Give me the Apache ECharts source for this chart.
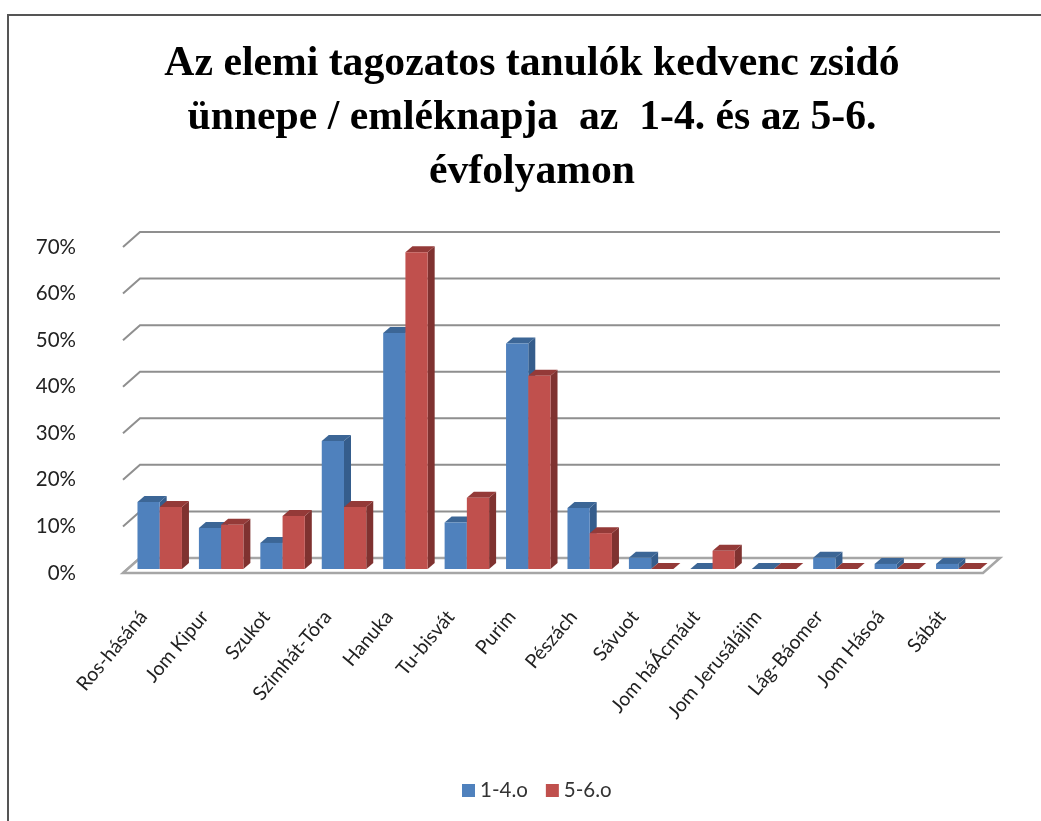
<!DOCTYPE html>
<html>
<head>
<meta charset="utf-8">
<title>Kedvenc ünnep</title>
<script src="https://cdn.jsdelivr.net/npm/echarts@6/dist/echarts.min.js"></script>
<style>
	html, body { margin: 0; padding: 0; background: #fff; }
	#main { width: 1041px; height: 821px; }
</style>
</head>
<body>
<div id="main"></div>
<script>
	// adatok
	var categories = ['Ros-hásáná', 'Jom Kipur', 'Szukot', 'Szimhát-Tóra', 'Hanuka', 'Tu-bisvát', 'Purim', 'Pészách', 'Sávuot', 'Jom háÁcmáut', 'Jom Jerusálájim', 'Lág-Báomer', 'Jom Hásoá', 'Sábát'];
	var grade14 = [14.4, 8.8, 5.6, 27.5, 50.7, 10, 48.4, 13.1, 2.4, 0, 0, 2.4, 1.1, 1.1];
	var grade56 = [13.3, 9.5, 11.4, 13.3, 68, 15.3, 41.5, 7.7, 0, 3.9, 0, 0, 0, 0];
	var ticks = [0, 10, 20, 30, 40, 50, 60, 70];

	var chartTitle = 'Az elemi tagozatos tanulók kedvenc zsidó\nünnepe / emléknapja  az  1-4. és az 5-6.\névfolyamon';

	var myChart = echarts.init(document.getElementById('main'));

	// a 3D hatás eltolásai (px)
	var wallDx = 17, wallDy = -15;
	var barDx = 6, barDy = -4;
	var depthX = 7, depthY = -6;

	function renderBar(side, front, sideColor, topColor) {
		return function(params, api) {
			var p = api.coord([api.value(0), api.value(1)]);
			var base = api.coord([api.value(0), 0]);
			var w = api.size([1, 0])[0] * 0.362;
			var x0 = p[0] + barDx + (side < 0 ? -w : 0);
			var x1 = x0 + w;
			var yt = p[1] + barDy;
			var yb = base[1] + barDy;
			return {
				type: 'group',
				children: [{
					type: 'polygon',
					shape: { points: [[x1, yt], [x1 + depthX, yt + depthY], [x1 + depthX, yb + depthY], [x1, yb]] },
					style: { fill: sideColor }
				}, {
					type: 'polygon',
					shape: { points: [[x0, yt], [x0 + depthX, yt + depthY], [x1 + depthX, yt + depthY], [x1, yt]] },
					style: { fill: topColor }
				}, {
					type: 'rect',
					shape: { x: x0, y: yt, width: w, height: yb - yt },
					style: { fill: front }
				}]
			};
		};
	}

	// hátsó fal, oldalfal és padló vonalai
	function renderWall(params, api) {
		var cs = params.coordSys;
		var y = api.coord([0, api.value(1)])[1];
		var line = { stroke: '#8f8f8f', lineWidth: 2, fill: null };
		var children = [{
			type: 'polyline',
			shape: { points: [[cs.x, y], [cs.x + wallDx, y + wallDy], [cs.x + cs.width + wallDx, y + wallDy]] },
			style: line
		}];
		if (api.value(1) === 0) {
			children.push({
				type: 'polygon',
				shape: { points: [[cs.x, y], [cs.x + wallDx, y + wallDy], [cs.x + cs.width + wallDx, y + wallDy], [cs.x + cs.width, y]] },
				style: { stroke: '#a6a6a6', lineWidth: 2.5, fill: '#fff' }
			});
		}
		return { type: 'group', children: children };
	}

	var option = {
		backgroundColor: '#fff',
		animation: false,
		title: {
			text: chartTitle,
			left: 527,
			top: 32,
			textAlign: 'center',
			textStyle: {
				fontFamily: 'Liberation Serif',
				fontWeight: 'bold',
				fontSize: 41.7,
				lineHeight: 54,
				color: '#000'
			}
		},
		legend: {
			data: ['1-4.o', '5-6.o'],
			left: 457,
			top: 775,
			icon: 'rect',
			itemWidth: 13,
			itemHeight: 13,
			itemGap: 18,
			textStyle: { fontFamily: 'Lato', fontSize: 20.5, color: '#333' }
		},
		grid: { left: 123, top: 247, width: 860, height: 326 },
		xAxis: {
			type: 'category',
			data: categories,
			axisLine: { show: false },
			axisTick: { show: false },
			axisLabel: {
				interval: 0,
				rotate: 50,
				margin: 28,
				padding: [0, 16, 0, 0],
				fontFamily: 'Lato',
				fontSize: 19.5,
				color: '#222'
			}
		},
		yAxis: {
			type: 'value',
			min: 0,
			max: 70,
			interval: 10,
			axisLine: { show: false },
			axisTick: { show: false },
			splitLine: { show: false },
			axisLabel: {
				margin: 47,
				padding: [9, 0, 0, 0],
				fontFamily: 'Lato',
				fontSize: 20.5,
				color: '#222',
				formatter: '{value}%'
			}
		},
		series: [{
			name: 'fal',
			type: 'custom',
			renderItem: renderWall,
			silent: true,
			encode: { x: 0, y: 1 },
			data: ticks.slice().reverse().map(function(t) { return [0, t]; }),
			z: 1
		}, {
			name: '1-4.o',
			type: 'custom',
			renderItem: renderBar(-1, '#4f81bd', '#355d8c', '#3c6696'),
			itemStyle: { color: '#4f81bd' },
			encode: { x: 0, y: 1 },
			data: grade14.map(function(v, i) { return [i, v]; }),
			z: 2
		}, {
			name: '5-6.o',
			type: 'custom',
			renderItem: renderBar(1, '#c0504d', '#7f3230', '#943a38'),
			itemStyle: { color: '#c0504d' },
			encode: { x: 0, y: 1 },
			data: grade56.map(function(v, i) { return [i, v]; }),
			z: 3
		}],
		graphic: [{
			type: 'polyline',
			shape: { points: [[8, 821], [8, 15], [1041, 15]] },
			style: { stroke: '#555', lineWidth: 2, fill: null }
		}]
	};

	myChart.setOption(option);
</script>
</body>
</html>
